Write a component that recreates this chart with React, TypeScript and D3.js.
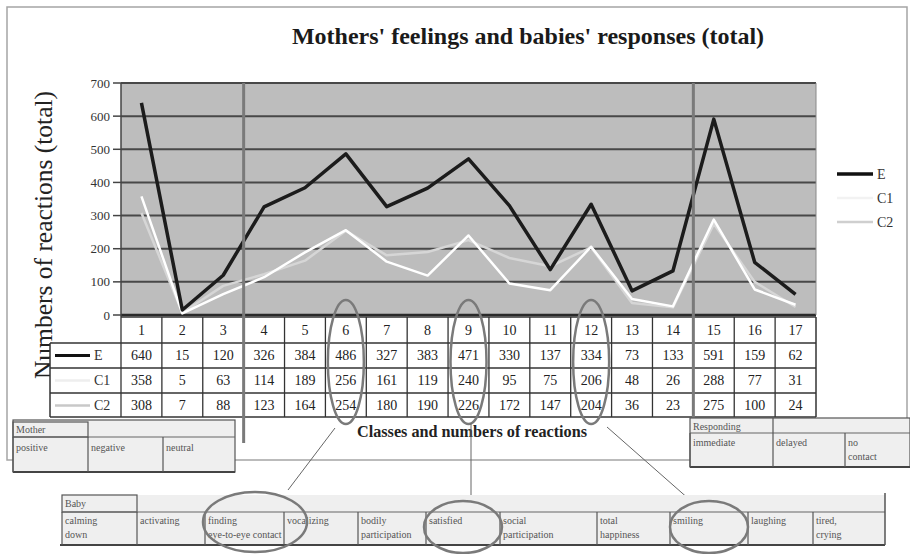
import React from "react";
import * as d3 from "d3";

const categories = ["1","2","3","4","5","6","7","8","9","10","11","12","13","14","15","16","17"];
const seriesE = [640,15,120,326,384,486,327,383,471,330,137,334,73,133,591,159,62];
const seriesC1 = [358,5,63,114,189,256,161,119,240,95,75,206,48,26,288,77,31];
const seriesC2 = [308,7,88,123,164,254,180,190,226,172,147,204,36,23,275,100,24];
const seriesNames = ["E","C1","C2"];
const yTicks = [0,100,200,300,400,500,600,700];
const groupBreaks = ["3","14"]; // separator after these categories
const highlighted = ["6","9","12"];
const motherLabels = [["positive"],["negative"],["neutral"]];
const respondingLabels = [["immediate"],["delayed"],["no","contact"]];
const babyLabels = [["calming","down"],["activating"],["finding","eye-to-eye contact"],["vocalizing"],["bodily","participation"],["satisfied"],["social","participation"],["total","happiness"],["smiling"],["laughing"],["tired,","crying"]];
const babyHighlighted = [2,5,8];

const W = 910, H = 554;
const serif = "'Liberation Serif', 'DejaVu Serif', serif";

export default function App() {
  const x = d3.scaleBand<string>().domain(categories).range([121, 816]).padding(0);
  const y = d3.scaleLinear().domain([0, 700]).range([315, 83]);
  const cx = (c: string) => (x(c) as number) + x.bandwidth() / 2;
  const seriesData = [seriesE, seriesC1, seriesC2];
  const seriesColor = ["#1c1c1c", "#ffffff", "#d6d6d6"];
  const seriesWidth = [3.5, 2.5, 2.5];
  const line = d3.line<number>().x((_, i) => cx(categories[i])).y((d) => y(d));

  const rowTops = [317, 343, 368, 393, 417];
  const tableLeft = 50;

  // baby cell boundaries
  const babyX = [62, 137, 205, 284, 358, 426, 500, 597, 670, 748, 813, 885];
  const motherX = [13, 88, 163, 235];
  const respX = [690, 773, 845, 910];

  const sepX = groupBreaks.map((c) => (x(c) as number) + x.bandwidth());

  return (
    <svg width={W} height={H} style={{ position: "absolute", left: 0, top: 0, background: "#fff", fontFamily: serif }}>
      <rect x={0} y={0} width={W} height={H} fill="#fff" />
      {/* outer frame */}
      <rect x={7} y={7} width={900} height={453} fill="#fff" stroke="#a5a5a5" strokeWidth={1.5} />
      {/* title */}
      <text x={528} y={44} textAnchor="middle" fontSize={24} fontWeight="bold" fill="#1a1a1a">
        Mothers' feelings and babies' responses (total)
      </text>
      {/* y title */}
      <text transform="translate(52,235) rotate(-90)" textAnchor="middle" fontSize={25.5} fill="#222">
        Numbers of reactions (total)
      </text>
      {/* plot area */}
      <rect x={121} y={83} width={695} height={232} fill="#bdbdbd" />
      {yTicks.map((t) => (
        <g key={t}>
          <line x1={121} x2={816} y1={y(t)} y2={y(t)} stroke={t === 0 ? "#2a2a2a" : "#484848"} strokeWidth={t === 0 ? 2.5 : 2} />
          <line x1={113} x2={121} y1={y(t)} y2={y(t)} stroke="#444" strokeWidth={1.5} />
          <text x={110} y={y(t) + 4.5} textAnchor="end" fontSize={13} fill="#333" style={{ fontFamily: serif }}>{t}</text>
        </g>
      ))}
      <line x1={121} x2={121} y1={83} y2={317} stroke="#444" strokeWidth={1.5} />
      <line x1={816} x2={816} y1={83} y2={315} stroke="#888" strokeWidth={1} />
      {/* series lines */}
      {[2, 1, 0].map((s) => (
        <path key={s} d={line(seriesData[s]) as string} fill="none" stroke={seriesColor[s]} strokeWidth={seriesWidth[s]} strokeLinejoin="round" />
      ))}
      {/* table */}
      <rect x={121} y={rowTops[0]} width={695} height={rowTops[4] - rowTops[0]} fill="#fff" />
      <rect x={tableLeft} y={rowTops[1]} width={121 - tableLeft} height={rowTops[4] - rowTops[1]} fill="#fff" />
      {rowTops.map((r, i) => (
        <line key={i} x1={i === 0 ? 121 : tableLeft} x2={816} y1={r} y2={r} stroke="#333" strokeWidth={1.5} />
      ))}
      <line x1={tableLeft} x2={tableLeft} y1={rowTops[1]} y2={rowTops[4]} stroke="#333" strokeWidth={1.5} />
      {categories.map((c) => (
        <line key={c} x1={x(c) as number} x2={x(c) as number} y1={rowTops[0]} y2={rowTops[4]} stroke="#333" strokeWidth={1.3} />
      ))}
      <line x1={816} x2={816} y1={rowTops[0]} y2={rowTops[4]} stroke="#333" strokeWidth={1.5} />
      {categories.map((c) => (
        <text key={c} x={cx(c)} y={rowTops[0] + 18} textAnchor="middle" fontSize={14} fill="#222">{c}</text>
      ))}
      {seriesData.map((arr, s) => (
        <g key={s}>
          <line x1={55} x2={90} y1={rowTops[s + 1] + 12.5} y2={rowTops[s + 1] + 12.5} stroke={s === 0 ? "#111" : s === 1 ? "#eeeeee" : "#c8c8c8"} strokeWidth={s === 0 ? 3 : 2.5} />
          <text x={94} y={rowTops[s + 1] + 17} fontSize={14} fill="#333">{seriesNames[s]}</text>
          {arr.map((v, i) => (
            <text key={i} x={cx(categories[i])} y={rowTops[s + 1] + 17} textAnchor="middle" fontSize={14} fill="#222">{v}</text>
          ))}
        </g>
      ))}
      {/* group separators */}
      {sepX.map((sx, i) => (
        <line key={i} x1={sx} x2={sx} y1={83} y2={443} stroke="#7a7a7a" strokeWidth={3} />
      ))}
      {/* x title */}
      <text x={472} y={437} textAnchor="middle" fontSize={16.2} fontWeight="bold" fill="#222">Classes and numbers of reactions</text>
      {/* right legend */}
      {seriesNames.map((n, s) => (
        <g key={n}>
          <line x1={837} x2={873} y1={174 + s * 24} y2={174 + s * 24} stroke={s === 0 ? "#111" : s === 1 ? "#f2f2f2" : "#cfcfcf"} strokeWidth={s === 0 ? 3.5 : 2.5} />
          <text x={877} y={179 + s * 24} fontSize={14} fill="#333">{n}</text>
        </g>
      ))}
      {/* highlight ellipses in table */}
      {highlighted.map((c) => (
        <ellipse key={c} cx={cx(c)} cy={362} rx={18} ry={62} fill="none" stroke="#7a7a7a" strokeWidth={2.5} />
      ))}
      {/* Mother box */}
      <rect x={motherX[0]} y={420} width={motherX[3] - motherX[0]} height={52} fill="#efefef" stroke="#555" strokeWidth={1.2} />
      <line x1={motherX[0]} x2={motherX[3]} y1={437} y2={437} stroke="#666" strokeWidth={1.2} />
      <line x1={motherX[0]} x2={motherX[3]} y1={472} y2={472} stroke="#444" strokeWidth={2.2} />
      <rect x={motherX[0]} y={422} width={motherX[1] - motherX[0]} height={15} fill="none" stroke="#555" strokeWidth={1.2} />
      <text x={16} y={433} fontSize={10} fill="#555">Mother</text>
      {motherLabels.map((lab, i) => (
        <g key={i}>
          <line x1={motherX[i]} x2={motherX[i]} y1={437} y2={472} stroke="#555" strokeWidth={1.2} />
          {lab.map((t, j) => (
            <text key={j} x={motherX[i] + 3} y={451 + j * 13} fontSize={10} fill="#555">{t}</text>
          ))}
        </g>
      ))}
      {/* Responding box */}
      <rect x={respX[0]} y={418} width={respX[3] - respX[0]} height={49} fill="#efefef" stroke="#555" strokeWidth={1.2} />
      <line x1={respX[0]} x2={respX[3]} y1={433} y2={433} stroke="#666" strokeWidth={1.2} />
      <line x1={respX[0]} x2={respX[3]} y1={467} y2={467} stroke="#444" strokeWidth={2.2} />
      <line x1={respX[1]} x2={respX[1]} y1={418} y2={433} stroke="#555" strokeWidth={1.2} />
      <text x={693} y={430} fontSize={10} fill="#555">Responding</text>
      {respondingLabels.map((lab, i) => (
        <g key={i}>
          <line x1={respX[i]} x2={respX[i]} y1={433} y2={467} stroke="#555" strokeWidth={1.2} />
          {lab.map((t, j) => (
            <text key={j} x={respX[i] + 3} y={446 + j * 14} fontSize={10} fill="#555">{t}</text>
          ))}
        </g>
      ))}
      {/* connector lines */}
      <line x1={335} y1={428} x2={288} y2={490} stroke="#666" strokeWidth={1} />
      <line x1={471} y1={423} x2={471} y2={502} stroke="#666" strokeWidth={1} />
      <line x1={607} y1={427} x2={690} y2={500} stroke="#666" strokeWidth={1} />
      {/* Baby box */}
      <rect x={babyX[0]} y={495} width={babyX[11] - babyX[0]} height={50} fill="#efefef" stroke="none" />
      <rect x={babyX[0]} y={495} width={babyX[1] - babyX[0]} height={17} fill="none" stroke="#555" strokeWidth={1.2} />
      <line x1={babyX[0]} x2={babyX[11]} y1={512} y2={512} stroke="#666" strokeWidth={1.2} />
      <line x1={babyX[0] - 2} x2={babyX[11]} y1={545} y2={545} stroke="#444" strokeWidth={2.2} />
      <line x1={babyX[11]} x2={babyX[11]} y1={493} y2={545} stroke="#555" strokeWidth={1.5} />
      <text x={65} y={507} fontSize={10} fill="#555">Baby</text>
      {babyLabels.map((lab, i) => (
        <g key={i}>
          <line x1={babyX[i]} x2={babyX[i]} y1={512} y2={545} stroke="#555" strokeWidth={1.2} />
          {lab.map((t, j) => (
            <text key={j} x={babyX[i] + 3} y={524 + j * 14} fontSize={10} fill="#555">{t}</text>
          ))}
        </g>
      ))}
      {/* baby highlight ellipses */}
      {babyHighlighted.map((i) => {
        const mid = (babyX[i] + babyX[i + 1]) / 2;
        const rx = i === 2 ? 52 : 39;
        const cy = i === 2 ? 522 : 527;
        const ry = i === 2 ? 30 : 26;
        return <ellipse key={i} cx={i === 2 ? 255 : mid} cy={cy} rx={rx} ry={ry} fill="none" stroke="#7a7a7a" strokeWidth={2.5} />;
      })}
    </svg>
  );
}
